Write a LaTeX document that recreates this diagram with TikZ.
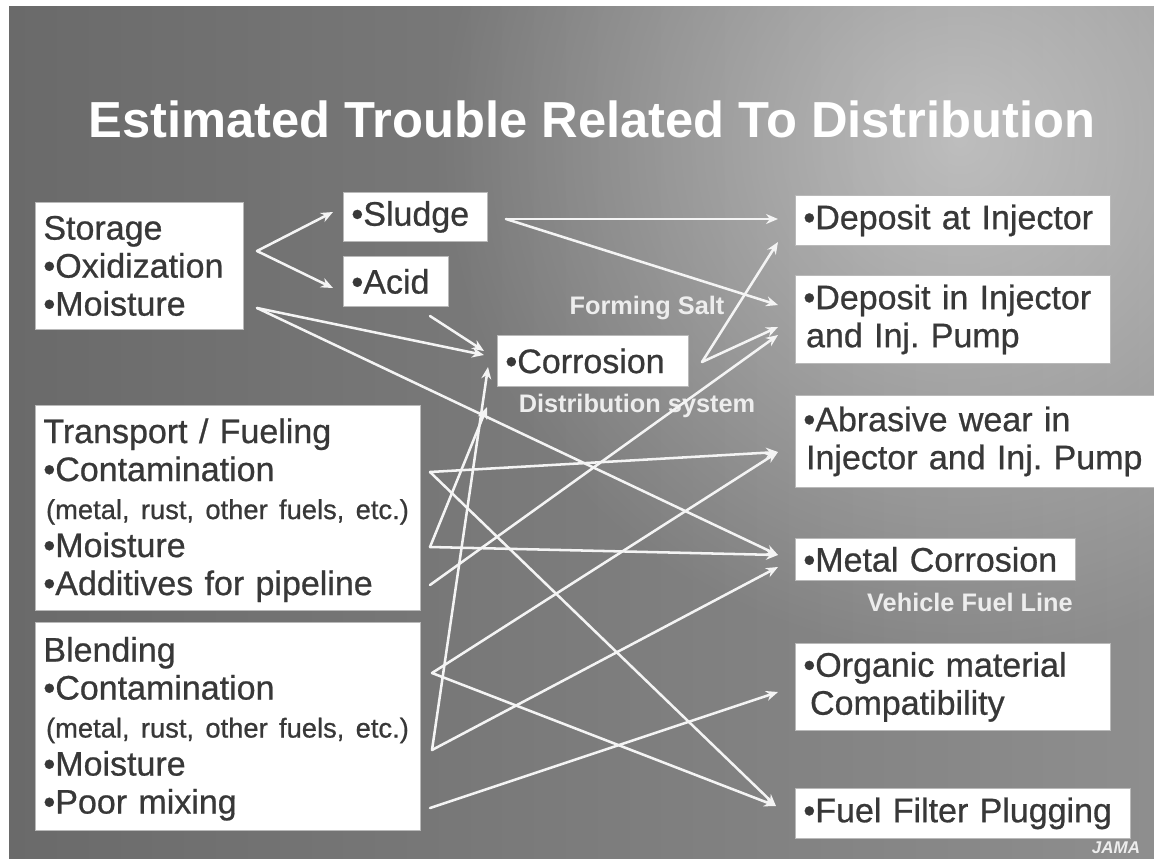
\documentclass[tikz,border=0pt]{standalone}
\usepackage{fontspec}
\setmainfont{Liberation Sans}
\newfontface\panelface{Liberation Sans}[RawFeature={embolden=0.7}]
\usetikzlibrary{arrows.meta,fadings}

\definecolor{bgdark}{HTML}{6A6A6A}
\definecolor{bgmid}{HTML}{828282}
\definecolor{bglight}{HTML}{8E8E8E}
\definecolor{inkgray}{HTML}{383838}
\definecolor{arrowwhite}{HTML}{F4F4F4}
\definecolor{labelwhite}{HTML}{EDEDED}

% soft radial glow for the slide background
\tikzfading[name=softglow, inner color=transparent!0, outer color=transparent!100]

\begin{document}
\begin{tikzpicture}[x=0.75pt,y=-0.75pt,
  panel/.style={draw=gray!55, line width=0.6pt, fill=white,
    anchor=north west, inner xsep=6pt, inner ysep=0pt, align=left,
    text=inkgray, font=\panelface\frenchspacing\fontsize{25.5}{28.5}\selectfont},
  flow/.style={draw=arrowwhite, line width=1.9pt, line cap=round,
    -{Stealth[length=9pt,width=7.5pt]}},
  tag/.style={text=labelwhite, inner sep=0pt,
    font=\bfseries\fontsize{19}{22}\selectfont}
]
\newcommand{\fineprint}[1]{\hspace*{2pt}{\fontsize{20.5}{28.5}\selectfont #1}}
\useasboundingbox (0,0) rectangle (1154,858);

% page and slide background
\fill[white] (0,0) rectangle (1154,858);
\shade[left color=bgdark, middle color=bgmid, right color=bglight]
  (9,6) rectangle (1154,858);
\begin{scope}
  \clip (9,6) rectangle (1154,858);
  \fill[white, opacity=0.45, path fading=softglow] (960,140) circle (520);
\end{scope}

% title
\node[anchor=base, text=white, inner sep=0pt,
  font=\bfseries\fontsize{38}{42}\selectfont] (title) at (592,137)
  {Estimated Trouble Related To Distribution};

% sources
\node[panel, text width=144pt, minimum height=95.25pt] (stor) at (35,202)
  {Storage\\•Oxidization\\•Moisture};
\node[panel, text width=276.75pt, minimum height=153.75pt] (trans) at (35,405)
  {\rule{0pt}{22pt}Transport / Fueling\\•Contamination\\\fineprint{(metal, rust, other fuels, etc.)}\\•Moisture\\•Additives for pipeline};
\node[panel, text width=276.75pt, minimum height=156pt] (blend) at (35,622)
  {\rule{0pt}{22pt}Blending\\•Contamination\\\fineprint{(metal, rust, other fuels, etc.)}\\•Moisture\\•Poor mixing};

% intermediate products
\node[panel, text width=96pt, minimum height=36.75pt] (sludge) at (343,192) {•Sludge};
\node[panel, text width=66.75pt, minimum height=37.5pt] (acid) at (343,256) {•Acid};
\node[panel, text width=131.25pt, minimum height=38.25pt] (corr) at (497,335) {•Corrosion};

% resulting troubles
\node[panel, text width=224.25pt, minimum height=37.5pt] (dai) at (795,195)
  {•Deposit at Injector};
\node[panel, text width=224.25pt, minimum height=66pt] (dii) at (795,275)
  {•Deposit in Injector\\\hspace*{2pt}and Inj. Pump};
\node[panel, text width=258pt, minimum height=69pt] (abr) at (795,395)
  {•Abrasive wear in\\\hspace*{2pt}Injector and Inj. Pump};
\node[panel, text width=198pt, minimum height=31.5pt] (mc) at (795,538)
  {•Metal Corrosion};
\node[panel, text width=224.25pt, minimum height=65.25pt] (org) at (795,643)
  {•Organic material\\\hspace*{5pt}Compatibility};
\node[panel, text width=239.25pt, minimum height=37.5pt] (ffp) at (795,788)
  {•Fuel Filter Plugging};

% annotations
\node[tag] (salt) at (647,308) {Forming Salt};
\node[tag] (dist) at (637,406) {Distribution system};
\node[tag] (vfl) at (970,602) {Vehicle Fuel Line};
\node[text=labelwhite, inner sep=0pt, font=\bfseries\itshape\fontsize{12.75}{14}\selectfont]
  (jama) at (1116,848) {JAMA};

% connector end points
\coordinate (stor-ox) at (257,251);
\coordinate (stor-mo) at (257,308);
\coordinate (sludge-in) at (333,212);
\coordinate (acid-in) at (333,288);
\coordinate (acid-out) at (430,316);
\coordinate (sludge-out) at (506,219);
\coordinate (corr-in-a) at (484,355);
\coordinate (corr-in-b) at (484,351);
\coordinate (corr-out) at (702,362);
\coordinate (corr-low) at (488,367);
\coordinate (dist-in) at (487,407);
\coordinate (tr-cont) at (430,472);
\coordinate (tr-moist) at (430,547);
\coordinate (tr-add) at (430,585);
\coordinate (bl-cont) at (432,673);
\coordinate (bl-moist) at (432,750);
\coordinate (bl-mix) at (430,808);
\coordinate (dai-a) at (778,219);
\coordinate (dai-b) at (778,242);
\coordinate (dii-a) at (778,305);
\coordinate (dii-b) at (778,327);
\coordinate (dii-c) at (778,335);
\coordinate (abr-in) at (778,452);
\coordinate (mc-a) at (778,555);
\coordinate (mc-b) at (778,567);
\coordinate (org-in) at (778,692);
\coordinate (ffp-in) at (776,806);

% storage
\draw[flow] (stor-ox) -- (sludge-in);
\draw[flow] (stor-ox) -- (acid-in);
\draw[flow] (stor-mo) -- (corr-in-a);
\draw[flow] (stor-mo) -- (mc-a);
\draw[flow] (acid-out) -- (corr-in-b);
% sludge and corrosion
\draw[flow] (sludge-out) -- (dai-a);
\draw[flow] (sludge-out) -- (dii-a);
\draw[flow] (corr-out) -- (dai-b);
\draw[flow] (corr-out) -- (dii-b);
% transport / fueling
\draw[flow] (tr-add) -- (dii-c);
\draw[flow] (tr-cont) -- (abr-in);
\draw[flow] (tr-cont) -- (ffp-in);
\draw[flow] (tr-moist) -- (mc-a);
\draw[flow] (tr-moist) -- (dist-in);
% blending
\draw[flow] (bl-moist) -- (corr-low);
\draw[flow] (bl-moist) -- (mc-b);
\draw[flow] (bl-cont) -- (abr-in);
\draw[flow] (bl-cont) -- (ffp-in);
\draw[flow] (bl-mix) -- (org-in);
\end{tikzpicture}
\end{document}
